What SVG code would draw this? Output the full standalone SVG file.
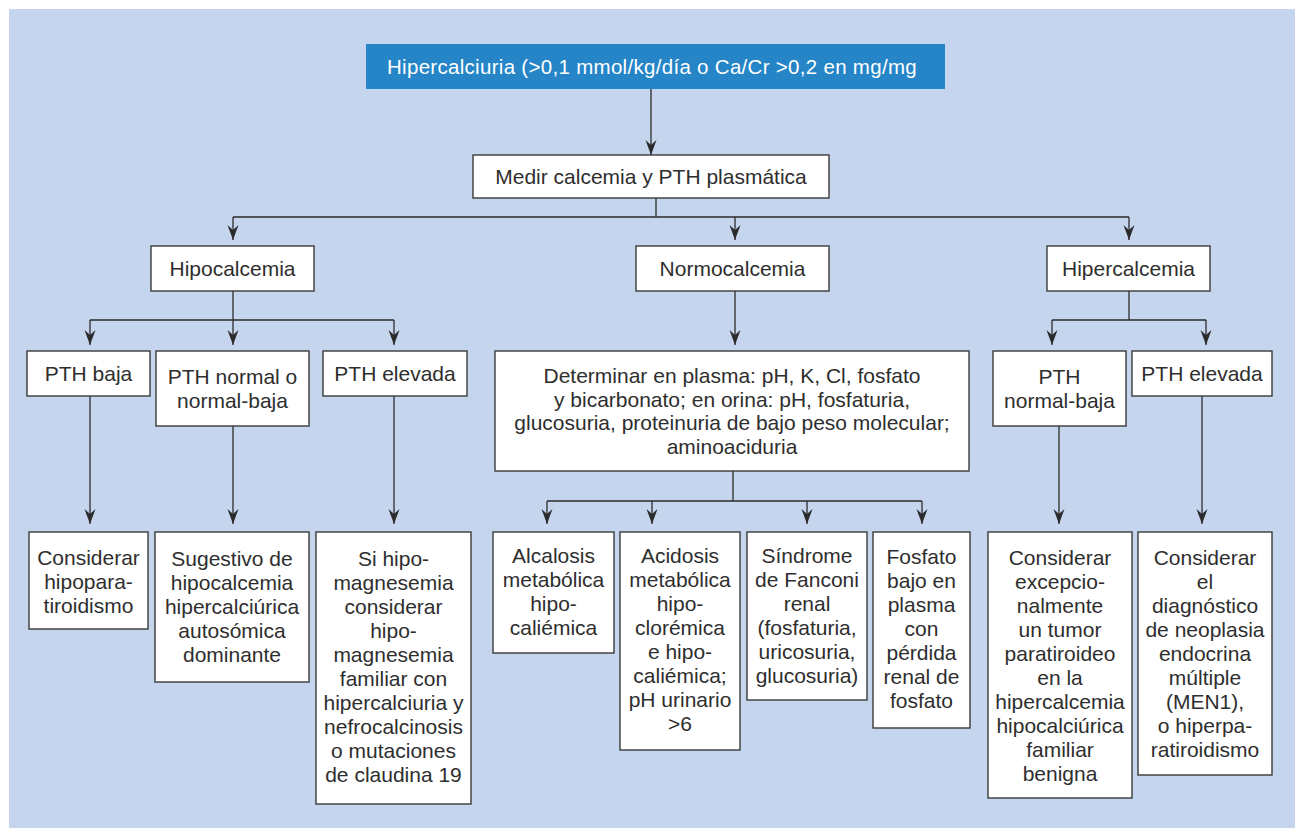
<svg xmlns="http://www.w3.org/2000/svg" width="1300" height="831" viewBox="0 0 1300 831">
<defs>
<style>
.bg{fill:#c6d5ee}
.box{fill:#ffffff;stroke:#3a3a3a;stroke-width:1.4}
.title{fill:#2585c7}
text{font-family:"Liberation Sans",Arial,sans-serif;font-size:21px;fill:#2e2e2e;text-anchor:middle}
.tt{fill:#ffffff;font-size:20.5px;letter-spacing:0.3px}
.ln{fill:none;stroke:#2b2b2b;stroke-width:1.3}
</style>
<marker id="ah" viewBox="-16 -6 17 12" refX="0" refY="0" markerWidth="17" markerHeight="12" markerUnits="userSpaceOnUse" orient="auto">
<path d="M0,0 L-15,-5.5 L-10,0 L-15,5.5 Z" fill="#2b2b2b"/>
</marker>
</defs>
<rect class="bg" x="9" y="9" width="1286" height="819"/>

<g id="connectors">
<path class="ln" d="M651,89 V155" marker-end="url(#ah)"/>
<path class="ln" d="M656,198 V217 M233,217 H1129"/>
<path class="ln" d="M233,217 V240" marker-end="url(#ah)"/>
<path class="ln" d="M735,217 V240" marker-end="url(#ah)"/>
<path class="ln" d="M1129,217 V240" marker-end="url(#ah)"/>
<path class="ln" d="M233,291 V320 M90,320 H394"/>
<path class="ln" d="M90,320 V345" marker-end="url(#ah)"/>
<path class="ln" d="M233,320 V345" marker-end="url(#ah)"/>
<path class="ln" d="M394,320 V345" marker-end="url(#ah)"/>
<path class="ln" d="M90,396 V524" marker-end="url(#ah)"/>
<path class="ln" d="M233,426 V524" marker-end="url(#ah)"/>
<path class="ln" d="M394,396 V524" marker-end="url(#ah)"/>
<path class="ln" d="M735,291 V345" marker-end="url(#ah)"/>
<path class="ln" d="M733,471 V501 M547,501 H922"/>
<path class="ln" d="M547,501 V524" marker-end="url(#ah)"/>
<path class="ln" d="M652,501 V524" marker-end="url(#ah)"/>
<path class="ln" d="M807,501 V524" marker-end="url(#ah)"/>
<path class="ln" d="M922,501 V524" marker-end="url(#ah)"/>
<path class="ln" d="M1129,291 V320 M1052,320 H1206"/>
<path class="ln" d="M1052,320 V345" marker-end="url(#ah)"/>
<path class="ln" d="M1206,320 V345" marker-end="url(#ah)"/>
<path class="ln" d="M1059,426 V524" marker-end="url(#ah)"/>
<path class="ln" d="M1202,396 V524" marker-end="url(#ah)"/>
</g>

<g id="n-title">
<rect class="title" x="366" y="44" width="579" height="45"/>
<text class="tt" x="652" y="74">Hipercalciuria (&gt;0,1 mmol/kg/día o Ca/Cr &gt;0,2 en mg/mg</text>
</g>
<g id="n-medir">
<rect class="box" x="473" y="155" width="356" height="43"/>
<text x="651" y="184">Medir calcemia y PTH plasmática</text>
</g>
<g id="n-hipocalcemia">
<rect class="box" x="151" y="246" width="163" height="45"/>
<text x="232.5" y="276">Hipocalcemia</text>
</g>
<g id="n-normocalcemia">
<rect class="box" x="636" y="246" width="193" height="45"/>
<text x="732.5" y="276">Normocalcemia</text>
</g>
<g id="n-hipercalcemia">
<rect class="box" x="1047" y="246" width="163" height="45"/>
<text x="1128.5" y="276">Hipercalcemia</text>
</g>
<g id="n-pthbaja">
<rect class="box" x="27" y="351" width="123" height="45"/>
<text x="88.5" y="381">PTH baja</text>
</g>
<g id="n-pthnormal">
<rect class="box" x="156" y="351" width="153" height="75"/>
<text x="232.5" y="384">PTH normal o</text>
<text x="232.5" y="408">normal-baja</text>
</g>
<g id="n-pthelevada1">
<rect class="box" x="323" y="351" width="144" height="45"/>
<text x="395" y="381">PTH elevada</text>
</g>
<g id="n-determinar">
<rect class="box" x="495" y="351" width="474" height="120"/>
<text x="732" y="383">Determinar en plasma: pH, K, Cl, fosfato</text>
<text x="732" y="406.5">y bicarbonato; en orina: pH, fosfaturia,</text>
<text x="732" y="430">glucosuria, proteinuria de bajo peso molecular;</text>
<text x="732" y="453.5">aminoaciduria</text>
</g>
<g id="n-pthnormalbaja">
<rect class="box" x="993" y="351" width="133" height="75"/>
<text x="1059.5" y="384">PTH</text>
<text x="1059.5" y="408">normal-baja</text>
</g>
<g id="n-pthelevada2">
<rect class="box" x="1132" y="351" width="140" height="45"/>
<text x="1202" y="381">PTH elevada</text>
</g>
<g id="n-hipopara">
<rect class="box" x="29" y="532" width="119" height="97"/>
<text x="88.5" y="565">Considerar</text>
<text x="88.5" y="589">hipopara-</text>
<text x="88.5" y="613">tiroidismo</text>
</g>
<g id="n-sugestivo">
<rect class="box" x="155" y="532" width="154" height="150"/>
<text x="232" y="566">Sugestivo de</text>
<text x="232" y="590">hipocalcemia</text>
<text x="232" y="614">hipercalciúrica</text>
<text x="232" y="638">autosómica</text>
<text x="232" y="662">dominante</text>
</g>
<g id="n-sihipo">
<rect class="box" x="316" y="532" width="155" height="272"/>
<text x="393.5" y="566">Si hipo-</text>
<text x="393.5" y="590">magnesemia</text>
<text x="393.5" y="614">considerar</text>
<text x="393.5" y="638">hipo-</text>
<text x="393.5" y="662">magnesemia</text>
<text x="393.5" y="686">familiar con</text>
<text x="393.5" y="710">hipercalciuria y</text>
<text x="393.5" y="734">nefrocalcinosis</text>
<text x="393.5" y="758">o mutaciones</text>
<text x="393.5" y="782">de claudina 19</text>
</g>
<g id="n-alcalosis">
<rect class="box" x="493" y="532" width="121" height="121"/>
<text x="553.5" y="563">Alcalosis</text>
<text x="553.5" y="587">metabólica</text>
<text x="553.5" y="611">hipo-</text>
<text x="553.5" y="635">caliémica</text>
</g>
<g id="n-acidosis">
<rect class="box" x="620" y="532" width="120" height="218"/>
<text x="680" y="563">Acidosis</text>
<text x="680" y="587">metabólica</text>
<text x="680" y="611">hipo-</text>
<text x="680" y="635">clorémica</text>
<text x="680" y="659">e hipo-</text>
<text x="680" y="683">caliémica;</text>
<text x="680" y="707">pH urinario</text>
<text x="680" y="731">&gt;6</text>
</g>
<g id="n-fanconi">
<rect class="box" x="747" y="532" width="120" height="168"/>
<text x="807" y="563">Síndrome</text>
<text x="807" y="587">de Fanconi</text>
<text x="807" y="611">renal</text>
<text x="807" y="635">(fosfaturia,</text>
<text x="807" y="659">uricosuria,</text>
<text x="807" y="683">glucosuria)</text>
</g>
<g id="n-fosfato">
<rect class="box" x="873" y="532" width="97" height="196"/>
<text x="921.5" y="564">Fosfato</text>
<text x="921.5" y="588">bajo en</text>
<text x="921.5" y="612">plasma</text>
<text x="921.5" y="636">con</text>
<text x="921.5" y="660">pérdida</text>
<text x="921.5" y="684">renal de</text>
<text x="921.5" y="708">fosfato</text>
</g>
<g id="n-tumor">
<rect class="box" x="988" y="532" width="144" height="266"/>
<text x="1060" y="565">Considerar</text>
<text x="1060" y="589">excepcio-</text>
<text x="1060" y="613">nalmente</text>
<text x="1060" y="637">un tumor</text>
<text x="1060" y="661">paratiroideo</text>
<text x="1060" y="685">en la</text>
<text x="1060" y="709">hipercalcemia</text>
<text x="1060" y="733">hipocalciúrica</text>
<text x="1060" y="757">familiar</text>
<text x="1060" y="781">benigna</text>
</g>
<g id="n-men1">
<rect class="box" x="1138" y="532" width="134" height="243"/>
<text x="1205" y="565">Considerar</text>
<text x="1205" y="589">el</text>
<text x="1205" y="613">diagnóstico</text>
<text x="1205" y="637">de neoplasia</text>
<text x="1205" y="661">endocrina</text>
<text x="1205" y="685">múltiple</text>
<text x="1205" y="709">(MEN1),</text>
<text x="1205" y="733">o hiperpa-</text>
<text x="1205" y="757">ratiroidismo</text>
</g>
</svg>
